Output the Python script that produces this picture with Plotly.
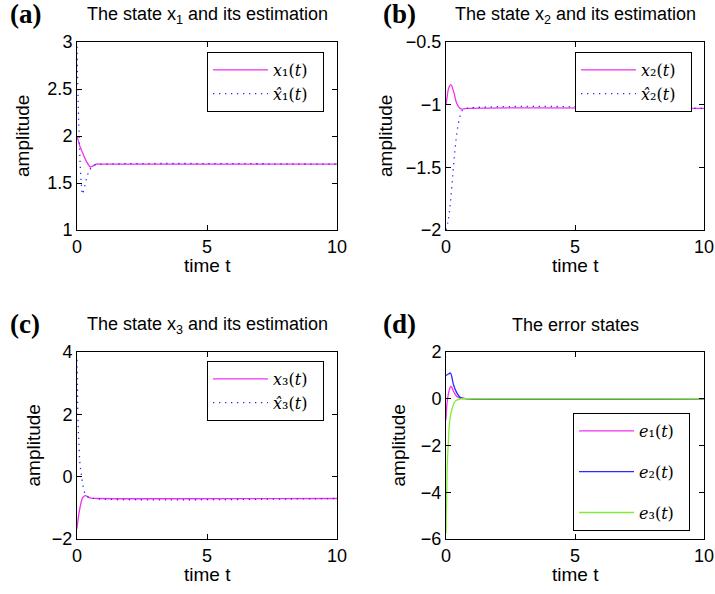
import plotly.graph_objects as go

# ---------------- data ----------------
# (a) state x1 and estimate
t_x1 = [0, 0.05, 0.1, 0.23, 0.36, 0.45, 0.51, 0.6, 0.74, 1.0, 10]
x1 = [2.0, 1.95, 1.90, 1.81, 1.73, 1.69, 1.67, 1.68, 1.70, 1.70, 1.70]
t_x1h = [0, 0.02, 0.04, 0.06, 0.09, 0.13, 0.17, 0.21, 0.29, 0.39, 0.49, 0.68, 1.0, 10]
x1h = [2.95, 2.66, 2.41, 2.2, 1.95, 1.65, 1.48, 1.38, 1.46, 1.57, 1.64, 1.69, 1.70, 1.70]

# (b) state x2 and estimate
t_x2 = [0, 0.05, 0.1, 0.19, 0.3, 0.4, 0.5, 0.6, 0.8, 10]
x2 = [-1.0, -0.93, -0.87, -0.84, -0.9, -0.98, -1.02, -1.035, -1.03, -1.03]
t_x2h = [0, 0.08, 0.16, 0.24, 0.32, 0.40, 0.48, 0.56, 0.64, 0.8, 10]
x2h = [-2.0, -1.93, -1.8, -1.62, -1.42, -1.26, -1.15, -1.08, -1.045, -1.03, -1.03]

# (c) state x3 and estimate
t_x3 = [0, 0.04, 0.1, 0.17, 0.23, 0.33, 0.42, 0.55, 0.8, 10]
x3 = [-1.67, -1.38, -1.06, -0.79, -0.66, -0.61, -0.65, -0.69, -0.70, -0.70]
t_x3h = [0, 0.013, 0.026, 0.05, 0.077, 0.1, 0.14, 0.18, 0.23, 0.32, 0.45, 0.62, 10]
x3h = [3.75, 3.1, 2.36, 1.5, 1.03, 0.55, 0.22, 0.01, -0.29, -0.56, -0.66, -0.70, -0.70]

# (d) error states
t_e1 = [0, 0.04, 0.1, 0.19, 0.29, 0.42, 0.55, 0.8, 10]
e1 = [-0.9, -0.18, 0.25, 0.54, 0.32, 0.1, 0.03, 0.0, 0.0]
t_e2 = [0, 0.08, 0.17, 0.29, 0.42, 0.55, 0.68, 0.9, 10]
e2 = [1.0, 1.05, 1.1, 0.6, 0.25, 0.06, 0.02, 0.0, 0.0]
t_e3 = [0, 0.01, 0.026, 0.05, 0.09, 0.14, 0.23, 0.36, 0.55, 0.8, 10]
e3 = [-5.75, -5.0, -4.2, -2.8, -1.9, -1.0, -0.45, -0.1, -0.01, 0.0, 0.0]

titles = ["The state x<sub>1</sub> and its estimation",
          "The state x<sub>2</sub> and its estimation",
          "The state x<sub>3</sub> and its estimation",
          "The error states"]
panel_labels = ["(a)", "(b)", "(c)", "(d)"]
x_label = "time t"
y_label = "amplitude"
x_ticks = [0, 5, 10]
y_ranges = [[1, 3], [-2, -0.5], [-2, 4], [-6, 2]]
y_dticks = [0.5, 0.5, 2, 2]

MAG = "#f030f0"
BLUE = "#2a2aff"
GREEN = "#80ee30"

W, H = 715, 594

def px(x):
    return x / W

def py(y):
    return 1 - y / H

fig = go.Figure()

PAD = "\u00a0" * 2
SUBS = {1: "\u2081", 2: "\u2082", 3: "\u2083"}

def leg_name(sym, idx, hat=False):
    s = "x\u0302" if hat else sym
    return f"<i>{s}</i>{SUBS[idx]}(<i>t</i>){PAD}"

DOT = dict(color=BLUE, width=1.3, dash="1.3px,4.7px")
SOL = dict(color=MAG, width=1.3)
series = [
    (t_x1, x1, False, SOL, "x", "y", "legend", 1),
    (t_x1h, x1h, True, DOT, "x", "y", "legend", 1),
    (t_x2, x2, False, SOL, "x2", "y2", "legend2", 2),
    (t_x2h, x2h, True, DOT, "x2", "y2", "legend2", 2),
    (t_x3, x3, False, SOL, "x3", "y3", "legend3", 3),
    (t_x3h, x3h, True, DOT, "x3", "y3", "legend3", 3),
]
for tt, vv, hat, line, xa, ya, lg, k in series:
    fig.add_trace(go.Scatter(x=tt, y=vv, mode="lines", line=line,
                             name=leg_name("x", k, hat), xaxis=xa, yaxis=ya,
                             legend=lg, line_shape="spline"))

for tt, vv, col, k in [(t_e1, e1, MAG, 1), (t_e2, e2, BLUE, 2), (t_e3, e3, GREEN, 3)]:
    fig.add_trace(go.Scatter(x=tt, y=vv, mode="lines", line=dict(color=col, width=1.3),
                             name=f"<i>e</i>{SUBS[k]}(<i>t</i>){PAD}",
                             xaxis="x4", yaxis="y4",
                             legend="legend4", legendgroup=f"e{k}", line_shape="spline"))

xdoms = [[px(77), px(337)], [px(446), px(704)]]
ydoms = [[py(230), py(42)], [py(539), py(352)]]
ylab_x = [22, 385, 33, 398]

tickfont = dict(family="Liberation Sans, Arial", size=18, color="black")
labfont = dict(family="Liberation Sans, Arial", size=19, color="black")

layout = dict(width=W, height=H,
              margin=dict(l=0, r=0, t=0, b=0, pad=0, autoexpand=False),
              plot_bgcolor="white", paper_bgcolor="white", showlegend=True)
annotations = []
for i in range(4):
    r, c = divmod(i, 2)
    sfx = "" if i == 0 else str(i + 1)
    common = dict(showline=True, linecolor="black", linewidth=1, mirror="ticks",
                  ticks="inside", ticklen=5, tickcolor="black", showgrid=False,
                  zeroline=False, tickfont=tickfont, automargin=False)
    layout["xaxis" + sfx] = dict(domain=xdoms[c], range=[0, 10], tickvals=x_ticks,
                                 anchor="y" + sfx, **common)
    layout["yaxis" + sfx] = dict(domain=ydoms[r], range=y_ranges[i], dtick=y_dticks[i],
                                 anchor="x" + sfx, **common)
    xc = (xdoms[c][0] + xdoms[c][1]) / 2
    ytop = ydoms[r][1]
    ybot = ydoms[r][0]
    ymid = (ytop + ybot) / 2
    annotations.append(dict(text=titles[i], x=xc, y=ytop + 27 / H, xref="paper", yref="paper",
                            xanchor="center", yanchor="middle", showarrow=False,
                            font=dict(family="Liberation Sans, Arial", size=18, color="black")))
    annotations.append(dict(text="<b>" + panel_labels[i] + "</b>",
                            x=px(8 if c == 0 else 381), y=ytop + 28 / H,
                            xref="paper", yref="paper", xanchor="left", yanchor="middle",
                            showarrow=False,
                            font=dict(family="Liberation Serif, Times New Roman", size=27,
                                      color="black")))
    annotations.append(dict(text=x_label, x=xc, y=ybot - 35 / H, xref="paper", yref="paper",
                            xanchor="center", yanchor="middle", showarrow=False, font=labfont))
    annotations.append(dict(text=y_label, x=px(ylab_x[i]), y=ymid, xref="paper", yref="paper",
                            xanchor="center", yanchor="middle", textangle=-90,
                            showarrow=False, font=labfont))
layout["annotations"] = annotations

legfont = dict(family="DejaVu Serif, Liberation Serif", size=16, color="black")
legpos = {"legend": (207, 52), "legend2": (575, 52), "legend3": (207, 361), "legend4": (573, 413)}
for name, (lx, ly) in legpos.items():
    layout[name] = dict(x=px(lx), y=py(ly), xref="paper", yref="paper",
                        xanchor="left", yanchor="top", bgcolor="white",
                        bordercolor="black", borderwidth=1, font=legfont,
                        itemwidth=55,
                        tracegroupgap=17 if name == "legend4" else 0)

fig.update_layout(**layout)
# remove the default 8px page margin so the figure fills the window exactly
fig.write_html("out.html", config={"displayModeBar": False},
               post_script="document.body.style.margin='0';")
